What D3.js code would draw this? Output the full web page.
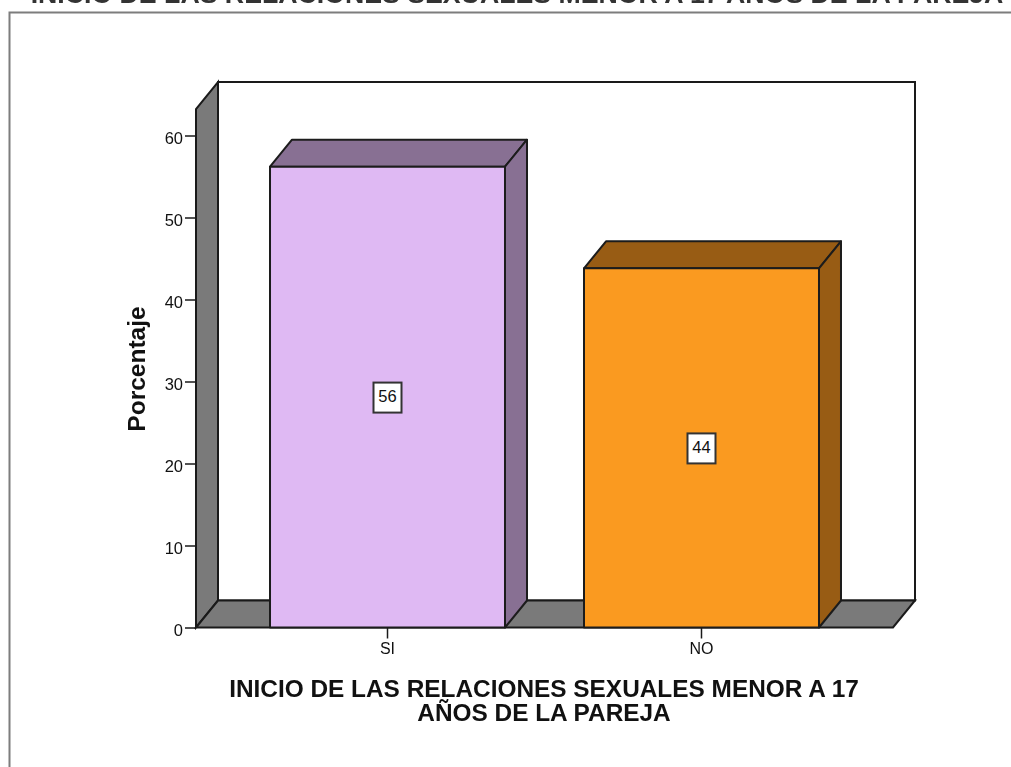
<!DOCTYPE html>
<html>
<head>
<meta charset="utf-8">
<script src="https://cdn.jsdelivr.net/npm/d3@7"></script>
<style>
  html, body { margin: 0; padding: 0; background: #fff; overflow: hidden; }
  svg { filter: blur(0.45px); }
  text { font-family: "Liberation Sans", Arial, sans-serif; fill: #111; }
</style>
</head>
<body>
<div id="chart"></div>
<script>
"use strict";

/* ── Data ── */
const categories = ["SI", "NO"];
const percentages = [56.2, 43.8];
const valueLabels = ["56", "44"];
const yTicks = [0, 10, 20, 30, 40, 50, 60];
const frontColours = ["#dfb9f3", "#fa9a20"];
const sideColours = ["#887093", "#985c14"];

const chartTitle = "INICIO DE LAS RELACIONES SEXUALES MENOR A 17 AÑOS DE LA PAREJA";
const xTitleLines = ["INICIO DE LAS RELACIONES SEXUALES MENOR A 17", "AÑOS DE LA PAREJA"];
const yTitle = "Porcentaje";

/* ── Dimensions ── */
const width = 1011, height = 767;
const plot = { left: 196, right: 893, bottom: 627.5, top: 109 };
const depth = { x: 22, y: -27 };
const wallColour = "#7a7a7a", ink = "#1a1a1a";

const svg = d3.select("#chart").append("svg")
  .attr("width", width)
  .attr("height", height)
  .style("display", "block");

/* ── Scales ── */
const y = d3.scaleLinear()
  .domain([0, 60])
  .range([plot.bottom, 135.5]);

const x = d3.scaleBand()
  .domain(categories)
  .range([plot.left, plot.right])
  .paddingInner(0.2516)
  .paddingOuter(0.2357);

/* polygon helper, offsets a front edge back into the depth */
const poly = pts => pts.map(p => p.join(",")).join(" ");
const back = ([px, py]) => [px + depth.x, py + depth.y];

/* ── Outer frame and clipped title ── */
svg.append("path")
  .attr("d", `M9.5,${height}V12.5H${width}`)
  .attr("fill", "none")
  .attr("stroke", "#7d7d7d")
  .attr("stroke-width", 2);

svg.append("text")
  .attr("x", 517)
  .attr("y", 3)
  .attr("text-anchor", "middle")
  .attr("font-size", "26.7px")
  .attr("font-weight", "700")
  .style("fill", "#333")
  .text(chartTitle);

/* ── 3D walls ── */
const corners = {
  bl: [plot.left, plot.bottom],
  br: [plot.right, plot.bottom],
  tl: [plot.left, plot.top]
};

svg.append("polygon")
  .attr("points", poly([back(corners.tl), [back(corners.br)[0], back(corners.tl)[1]], back(corners.br), back(corners.bl)]))
  .attr("fill", "#fff")
  .attr("stroke", ink)
  .attr("stroke-width", 2);

svg.append("polygon")
  .attr("points", poly([corners.bl, corners.tl, back(corners.tl), back(corners.bl)]))
  .attr("fill", wallColour)
  .attr("stroke", ink)
  .attr("stroke-width", 2);

svg.append("polygon")
  .attr("points", poly([corners.bl, corners.br, back(corners.br), back(corners.bl)]))
  .attr("fill", wallColour)
  .attr("stroke", ink)
  .attr("stroke-width", 2);

/* ── Axes ── */
svg.append("g")
  .attr("transform", `translate(${plot.left},0)`)
  .call(d3.axisLeft(y).tickValues(yTicks).tickSize(11).tickPadding(2).tickFormat(d3.format("d")))
  .call(g => {
    g.select(".domain").remove();
    g.selectAll(".tick line").attr("stroke", ink).attr("stroke-width", 1.5);
    g.selectAll(".tick text")
      .attr("font-size", "16.5px")
      .attr("font-family", "Liberation Sans, Arial, sans-serif")
      .attr("dy", "0.5em");
  });

svg.append("g")
  .attr("transform", `translate(0,${plot.bottom})`)
  .call(d3.axisBottom(x).tickSize(11).tickPadding(4))
  .call(g => {
    g.select(".domain").remove();
    g.selectAll(".tick line").attr("stroke", ink).attr("stroke-width", 1.5);
    g.selectAll(".tick text")
      .attr("font-size", "16px")
      .attr("font-family", "Liberation Sans, Arial, sans-serif");
  });

/* ── Bars ── */
const rows = categories.map((c, i) => ({
  key: c, value: percentages[i], label: valueLabels[i],
  front: frontColours[i], side: sideColours[i]
}));

const bars = svg.selectAll(".bar")
  .data(rows)
  .join("g")
  .attr("class", "bar")
  .attr("stroke", "#1c1c1c")
  .attr("stroke-width", 2)
  .attr("stroke-linejoin", "round");

bars.append("polygon")
  .attr("fill", d => d.side)
  .attr("points", d => {
    const x0 = x(d.key), x1 = x0 + x.bandwidth(), top = y(d.value);
    return poly([[x0, top], [x1, top], back([x1, top]), back([x0, top])]);
  });

bars.append("polygon")
  .attr("fill", d => d.side)
  .attr("points", d => {
    const x1 = x(d.key) + x.bandwidth(), top = y(d.value);
    return poly([[x1, top], [x1, plot.bottom], back([x1, plot.bottom]), back([x1, top])]);
  });

bars.append("rect")
  .attr("fill", d => d.front)
  .attr("x", d => x(d.key))
  .attr("y", d => y(d.value))
  .attr("width", x.bandwidth())
  .attr("height", d => plot.bottom - y(d.value));

/* ── Value labels ── */
const labels = svg.selectAll(".value-label")
  .data(rows)
  .join("g")
  .attr("class", "value-label")
  .attr("transform", d => `translate(${x(d.key) + x.bandwidth() / 2},${y(d.value / 2) + 0.5})`);

labels.append("rect")
  .attr("x", -14)
  .attr("y", -15)
  .attr("width", 28)
  .attr("height", 30)
  .attr("fill", "#fff")
  .attr("stroke", "#333")
  .attr("stroke-width", 2);

labels.append("text")
  .attr("text-anchor", "middle")
  .attr("dy", "0.28em")
  .attr("font-size", "16.5px")
  .text(d => d.label);

/* ── Axis titles ── */
svg.append("text")
  .attr("transform", "translate(145,369) rotate(-90)")
  .attr("text-anchor", "middle")
  .attr("font-size", "24.5px")
  .attr("font-weight", "700")
  .text(yTitle);

svg.selectAll(".x-title")
  .data(xTitleLines)
  .join("text")
  .attr("class", "x-title")
  .attr("x", 544)
  .attr("y", (_, i) => 697 + i * 24)
  .attr("text-anchor", "middle")
  .attr("font-size", "24.4px")
  .attr("font-weight", "700")
  .text(d => d);
</script>
</body>
</html>
